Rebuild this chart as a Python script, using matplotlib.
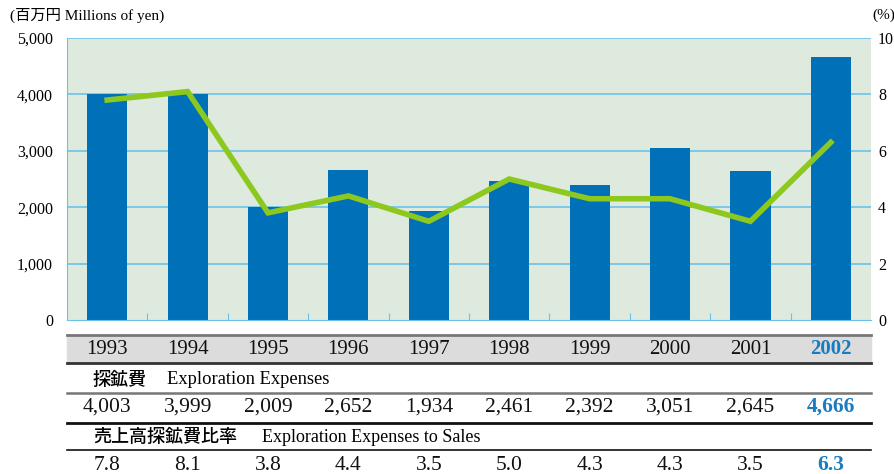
import matplotlib.pyplot as plt
import matplotlib.transforms as mtransforms
import numpy as np

# data
years = ['1993', '1994', '1995', '1996', '1997', '1998', '1999', '2000', '2001', '2002']
expenses = [4003, 3999, 2009, 2652, 1934, 2461, 2392, 3051, 2645, 4666]
ratio = [7.8, 8.1, 3.8, 4.4, 3.5, 5.0, 4.3, 4.3, 3.5, 6.3]
expense_labels = ['4,003', '3,999', '2,009', '2,652', '1,934', '2,461', '2,392', '3,051', '2,645', '4,666']
ratio_labels = ['7.8', '8.1', '3.8', '4.4', '3.5', '5.0', '4.3', '4.3', '3.5', '6.3']
left_ticks = [0, 1000, 2000, 3000, 4000, 5000]
left_ticklabels = ['0', '1,000', '2,000', '3,000', '4,000', '5,000']
right_ticks = [0, 2, 4, 6, 8, 10]

serif = ['Liberation Serif', 'Noto Sans CJK JP']
cjk = ['Noto Sans CJK JP', 'DejaVu Sans']
bar_c = '#0070b8'
line_c = '#8cc81e'
bg_c = '#ddeadd'
grid_c = '#6cc3ea'
hi_c = '#1a7cc0'

W, H = 895, 474
fig = plt.figure(figsize=(W / 100, H / 100), dpi=100)

def fy(y):
    # pixel row from top -> figure fraction
    return 1 - y / H

x0, x1, ytop, ybot = 67, 871, 38, 320
ax = fig.add_axes([x0 / W, fy(ybot), (x1 - x0) / W, (ybot - ytop) / H])
ax.set_facecolor(bg_c)
x = np.arange(len(years))
ax.set_xlim(-0.5, len(years) - 0.5)
ax.set_ylim(0, 5000)
for v in left_ticks[1:]:
    ax.axhline(v, color=grid_c, lw=1.2, zorder=1)
ax.bar(x, expenses, width=0.5, color=bar_c, zorder=2)
ax.set_yticks(left_ticks)
ax.set_yticklabels(left_ticklabels, family=serif, fontsize=11.5)
ax.tick_params(axis='y', length=0, pad=10)
ax.set_xticks(np.arange(len(years) - 1) + 0.5)
ax.set_xticklabels([])
ax.tick_params(axis='x', direction='in', length=5, color=grid_c)
for s in ['top', 'right']:
    ax.spines[s].set_visible(False)
ax.spines['left'].set_color(grid_c)
ax.spines['bottom'].set_color(grid_c)

ax2 = ax.twinx()
ax2.set_ylim(0, 10)
ax2.plot(x, ratio, color=line_c, lw=4, zorder=3, solid_joinstyle='miter')
ax2.set_yticks(right_ticks)
ax2.set_yticklabels([str(t) for t in right_ticks], family=serif, fontsize=11.5)
ax2.tick_params(axis='y', length=0, pad=5)
for s in ax2.spines.values():
    s.set_visible(False)

fig.text(10 / W, fy(15), '(百万円 Millions of yen)', family=serif, fontsize=11, va='center')
fig.text(872 / W, fy(15), '(%)', family=serif, fontsize=11, va='center')

# table below the chart: x in data units, y in figure fraction
tr = mtransforms.blended_transform_factory(ax.transData, fig.transFigure)
fig.patches.append(plt.Rectangle((x0 / W, fy(363)), (x1 - x0) / W, (363 - 335) / H,
                                 transform=fig.transFigure, color='#dcdcdc', zorder=0))
fig.add_artist(plt.Line2D([x0 / W, x1 / W], [fy(335), fy(335)], color='#777777', lw=2))
fig.add_artist(plt.Line2D([x0 / W, x1 / W], [fy(363), fy(363)], color='#333333', lw=2))
fig.add_artist(plt.Line2D([x0 / W, x1 / W], [fy(393), fy(393)], color='#777777', lw=1.8))
fig.add_artist(plt.Line2D([x0 / W, x1 / W], [fy(423), fy(423)], color='#111111', lw=2))
fig.add_artist(plt.Line2D([x0 / W, x1 / W], [fy(450), fy(450)], color='#111111', lw=1.2))

for i, yr in enumerate(years):
    last = i == len(years) - 1
    c = hi_c if last else '#111111'
    w = 'bold' if last else 'normal'
    fig.text(i, fy(349), yr, transform=tr, ha='center', va='center', family=serif,
             fontsize=15, color=c, weight=w)
    fig.text(i, fy(407), expense_labels[i], transform=tr, ha='center', va='center',
             family=serif, fontsize=15.5, color=c, weight=w)
    fig.text(i, fy(465), ratio_labels[i], transform=tr, ha='center', va='center',
             family=serif, fontsize=15.5, color=c, weight=w)

fig.text(93 / W, fy(380), '探鉱費', family=cjk, fontsize=13, weight='medium', va='center')
fig.text(167 / W, fy(380), 'Exploration Expenses', family=serif, fontsize=13.3, va='center')
fig.text(93 / W, fy(437), '売上高探鉱費比率', family=cjk, fontsize=13, weight='medium', va='center')
fig.text(262 / W, fy(437), 'Exploration Expenses to Sales', family=serif, fontsize=13, va='center')

fig.savefig('out.png', dpi=100)
